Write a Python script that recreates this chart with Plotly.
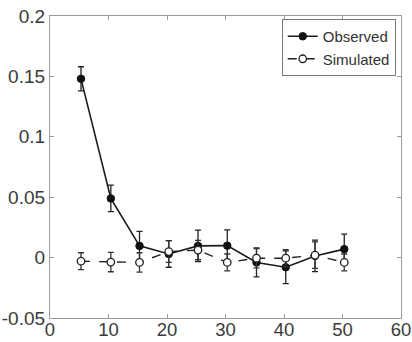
import plotly.graph_objects as go

x_obs = [5.3, 10.4, 15.3, 20.3, 25.3, 30.3, 35.3, 40.3, 45.3, 50.3]
y_obs = [0.148, 0.049, 0.0097, 0.003, 0.0097, 0.0099, -0.004, -0.008, 0.0014, 0.007]
e_obs = [0.010, 0.011, 0.012, 0.011, 0.013, 0.013, 0.012, 0.0135, 0.013, 0.0125]

x_sim = [5.3, 10.4, 15.3, 20.3, 25.3, 30.3, 35.3, 40.3, 45.3, 50.3]
y_sim = [-0.003, -0.0037, -0.004, 0.005, 0.0062, -0.004, -0.0005, -0.0005, 0.002, -0.004]
e_sim = [0.007, 0.008, 0.008, 0.009, 0.008, 0.007, 0.008, 0.007, 0.011, 0.007]

x_ticks = [0, 10, 20, 30, 40, 50, 60]
y_ticks = [-0.05, 0, 0.05, 0.1, 0.15, 0.2]
y_tick_text = ["-0.05", "0", "0.05", "0.1", "0.15", "0.2"]

fig = go.Figure()
fig.add_trace(go.Scatter(
    x=x_obs, y=y_obs, name="Observed", mode="lines+markers",
    line=dict(color="#1a1a1a", width=1.6, dash="solid"),
    marker=dict(symbol="circle", size=7.5, color="#111111", line=dict(color="#111111", width=1)),
    error_y=dict(type="data", array=e_obs, visible=True, color="#222222", thickness=1.3, width=3),
))
fig.add_trace(go.Scatter(
    x=x_sim, y=y_sim, name="Simulated", mode="lines+markers",
    line=dict(color="#222222", width=1.4, dash="dash"),
    marker=dict(symbol="circle", size=7.5, color="white", line=dict(color="#222222", width=1.3)),
    error_y=dict(type="data", array=e_sim, visible=True, color="#333333", thickness=1.3, width=3),
))

axis_common = dict(
    showgrid=False, zeroline=False, showline=True, linecolor="#9a9a9a", linewidth=1.2,
    mirror="allticks", ticks="inside", ticklen=4, tickcolor="#9a9a9a",
    ticklabeloverflow="allow", automargin=False,
)
fig.update_xaxes(range=[0, 60], tickvals=x_ticks, ticklabelstandoff=-5,
                 tickfont=dict(family="Liberation Sans, Arial", size=18.5, color="#3a3a3a"),
                 **axis_common)
fig.update_yaxes(range=[-0.05, 0.2], tickvals=y_ticks, ticktext=y_tick_text,
                 tickfont=dict(family="Liberation Sans, Arial", size=19, color="#3a3a3a"),
                 **axis_common)

fig.update_layout(
    width=412, height=342,
    margin=dict(l=50, r=11, t=16, b=24),
    paper_bgcolor="white", plot_bgcolor="white",
    showlegend=True,
    legend=dict(
        x=0.985, y=0.99, xanchor="right", yanchor="top",
        bgcolor="white", bordercolor="#777777", borderwidth=1,
        font=dict(family="Liberation Sans, Arial", size=15, color="#333333"),
        itemwidth=30, tracegroupgap=0,
    ),
)

fig.write_html("out.html")
